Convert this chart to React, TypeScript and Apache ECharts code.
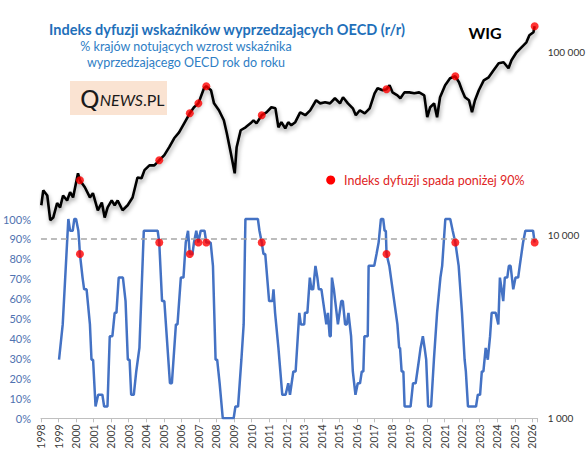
import React, { useEffect, useRef } from "react";
import * as echarts from "echarts";

// Diffusion index (% of countries with rising OECD CLI y/y)
const idxYears = [
  1999.03, 1999.24, 1999.56, 1999.66, 1999.81, 1999.9, 2000.0, 2000.13, 2000.18, 2000.22, 2000.37, 2000.46, 2000.6, 2000.79, 2000.88, 2000.97,
  2001.11, 2001.26, 2001.5, 2001.6, 2001.79, 2001.92, 2002.07, 2002.2, 2002.3, 2002.43, 2002.67, 2002.82, 2002.95, 2003.05, 2003.14, 2003.29,
  2003.43, 2003.61, 2003.86, 2004.65, 2004.74, 2004.9, 2005.03, 2005.12, 2005.35, 2005.46, 2005.69, 2005.78, 2005.97, 2006.12, 2006.25, 2006.38,
  2006.48, 2006.63, 2006.72, 2006.85, 2006.97, 2007.1, 2007.32, 2007.42, 2007.67, 2007.8, 2007.95, 2008.04, 2008.18, 2008.36, 2008.98, 2009.08,
  2009.23, 2009.42, 2009.55, 2009.65, 2010.36, 2010.45, 2010.58, 2010.68, 2010.78, 2011.0, 2011.19, 2011.25, 2011.34, 2011.53, 2011.75, 2011.94,
  2012.09, 2012.19, 2012.38, 2012.51, 2012.72, 2012.81, 2013.0, 2013.04, 2013.18, 2013.32, 2013.41, 2013.51, 2013.64, 2013.75, 2013.83, 2013.98,
  2014.17, 2014.26, 2014.35, 2014.45, 2014.51, 2014.58, 2014.69, 2014.92, 2015.11, 2015.2, 2015.33, 2015.43, 2015.52, 2015.67, 2015.77, 2015.92,
  2016.05, 2016.18, 2016.28, 2016.37, 2016.43, 2016.62, 2016.67, 2016.99, 2017.12, 2017.24, 2017.37, 2017.5, 2017.58, 2017.65, 2017.69, 2017.85,
  2018.22, 2018.31, 2018.41, 2018.46, 2018.55, 2018.65, 2018.72, 2019.06, 2019.2, 2019.35, 2019.54, 2019.63, 2019.76, 2019.86, 2019.95, 2020.06,
  2020.23, 2020.39, 2020.57, 2020.76, 2020.86, 2021.04, 2021.32, 2021.46, 2021.61, 2021.8, 2021.99, 2022.14, 2022.21, 2022.33, 2022.79, 2022.89,
  2023.02, 2023.12, 2023.21, 2023.34, 2023.46, 2023.59, 2023.68, 2023.91, 2024.06, 2024.15, 2024.25, 2024.34, 2024.43, 2024.57, 2024.66, 2024.76,
  2024.91, 2025.04, 2025.19, 2025.28, 2025.47, 2025.6, 2026.04, 2026.13,
];
const idxValues = [
  29.4, 47.1, 100, 94.1, 94.1, 100, 100, 94.1, 88.2, 82.4, 70.6, 64.7, 64.7, 47.1, 29.4, 29.4,
  5.9, 11.8, 11.8, 5.9, 5.9, 41.2, 41.2, 52.9, 52.9, 70.6, 70.6, 58.8, 29.4, 29.4, 11.8, 11.8,
  23.5, 35.3, 94.1, 94.1, 88.2, 58.8, 58.8, 47.1, 17.6, 17.6, 47.1, 47.1, 70.6, 70.6, 88.2, 94.1,
  82.4, 82.4, 88.2, 94.1, 88.2, 94.1, 94.1, 88.2, 88.2, 76.5, 29.4, 29.4, 17.6, 0, 0, 5.9,
  5.9, 29.4, 47.1, 100, 100, 94.1, 88.2, 82.4, 82.4, 58.8, 58.8, 64.7, 52.9, 35.3, 11.8, 11.8,
  17.6, 11.8, 23.5, 23.5, 52.9, 47.1, 47.1, 52.9, 52.9, 70.6, 64.7, 64.7, 76.5, 70.6, 64.7, 64.7,
  52.9, 47.1, 52.9, 41.2, 41.2, 70.6, 64.7, 47.1, 58.8, 58.8, 47.1, 47.1, 52.9, 41.2, 23.5, 11.8,
  17.6, 17.6, 23.5, 23.5, 41.2, 41.2, 76.5, 76.5, 82.4, 88.2, 100, 100, 94.1, 94.1, 82.4, 76.5,
  52.9, 47.1, 35.3, 35.3, 23.5, 23.5, 5.9, 5.9, 17.6, 17.6, 29.4, 35.3, 41.2, 35.3, 29.4, 5.9,
  5.9, 29.4, 52.9, 70.6, 76.5, 100, 100, 94.1, 88.2, 76.5, 52.9, 29.4, 23.5, 5.9, 5.9, 11.8,
  11.8, 23.5, 23.5, 35.3, 29.4, 41.2, 52.9, 52.9, 47.1, 70.6, 64.7, 58.8, 70.6, 70.6, 76.5, 76.5,
  64.7, 70.6, 70.6, 76.5, 88.2, 94.1, 94.1, 88.2,
];

// WIG index (log scale)
const wigYears = [
  1998.02, 1998.13, 1998.36, 1998.53, 1998.7, 1998.92, 1999.09, 1999.26, 1999.49, 1999.66, 1999.83, 2000.11, 2000.22, 2000.5, 2000.79, 2000.96,
  2001.24, 2001.47, 2001.63, 2001.8, 2002.03, 2002.2, 2002.37, 2002.65, 2002.94, 2003.22, 2003.5, 2003.73, 2003.9, 2004.18, 2004.46, 2004.74,
  2005.03, 2005.31, 2005.59, 2005.87, 2006.16, 2006.48, 2006.72, 2006.97, 2007.29, 2007.42, 2007.69, 2007.86, 2008.14, 2008.42, 2008.59, 2008.82,
  2009.04, 2009.15, 2009.38, 2009.66, 2009.94, 2010.11, 2010.28, 2010.58, 2010.85, 2011.13, 2011.36, 2011.53, 2011.7, 2011.92, 2012.09, 2012.26,
  2012.49, 2012.77, 2013.06, 2013.34, 2013.68, 2013.91, 2014.19, 2014.47, 2014.75, 2015.04, 2015.21, 2015.49, 2015.77, 2015.94, 2016.17, 2016.45,
  2016.73, 2017.01, 2017.18, 2017.47, 2017.69, 2017.86, 2018.03, 2018.31, 2018.48, 2018.71, 2018.99, 2019.27, 2019.55, 2019.84, 2020.01, 2020.18,
  2020.4, 2020.57, 2020.74, 2021.03, 2021.31, 2021.61, 2021.82, 2021.99, 2022.16, 2022.39, 2022.56, 2022.73, 2022.95, 2023.23, 2023.51, 2023.79,
  2024.08, 2024.36, 2024.64, 2024.81, 2025.1, 2025.38, 2025.66, 2025.83, 2026.06, 2026.13,
];
const wigValues = [
  14600, 17600, 16500, 12100, 12500, 15000, 14200, 16500, 15500, 17200, 16100, 21800, 20000, 18300, 16100, 17000,
  13700, 15100, 12500, 14200, 15500, 14600, 15500, 13700, 14600, 16100, 20700, 20500, 22700, 24100, 24100, 25700,
  27400, 30300, 33900, 36500, 40900, 46400, 50100, 52600, 63600, 65200, 62000, 52600, 48200, 42500, 36100, 28100,
  21800, 30300, 37500, 38900, 40900, 42500, 40900, 45300, 47000, 50100, 49400, 38900, 41500, 38400, 41500, 39900,
  41500, 47000, 45300, 48200, 54700, 52600, 53300, 52600, 56100, 52600, 56800, 52600, 49400, 45300, 48200, 46400,
  49400, 59700, 63600, 62000, 62800, 66000, 60400, 58200, 56100, 60400, 60400, 59700, 60400, 58200, 44200, 50100,
  52600, 44200, 56800, 66000, 72100, 73900, 68600, 62000, 56800, 54700, 47000, 54700, 62000, 70300, 73000, 79700,
  87100, 88200, 81800, 90400, 100000, 106500, 113400, 123900, 128600, 138700,
];

// Moments when the diffusion index drops below 90%
const dotYears = [2000.22, 2004.74, 2006.48, 2006.97, 2007.42, 2010.58, 2017.69, 2021.61, 2026.13];
const dotIdx = [82.4, 88.2, 82.4, 88.2, 88.2, 88.2, 82.4, 88.2, 88.2];
const dotWig = [20000, 25700, 46400, 52600, 65200, 45300, 62800, 73900, 138700];

const threshold = 90;

const titleText = "Indeks dyfuzji wskaźników wyprzedzających OECD (r/r)";
const subtitle1 = "% krajów notujących wzrost wskaźnika";
const subtitle2 = "wyprzedzającego OECD rok do roku";
const legendText = "Indeks dyfuzji spada poniżej 90%";

const FONT = "Lato, 'Noto Sans', sans-serif";

const zip = (a: number[], b: number[]) => a.map((v, i) => [v, b[i]]);

export default function App() {
  const ref = useRef<HTMLDivElement>(null);
  useEffect(() => {
    document.body.style.margin = "0";
    if (!ref.current) return;
    const chart = echarts.init(ref.current, undefined, { renderer: "svg" });
    chart.setOption({
      animation: false,
      backgroundColor: "#ffffff",
      textStyle: { fontFamily: FONT },
      grid: { left: 40.7, right: 46.7, top: 19.7, bottom: 43.7, containLabel: false },
      xAxis: {
        type: "value",
        min: 1998,
        max: 2026.3,
        interval: 1,
        axisLine: { onZero: false, lineStyle: { color: "#BFBFBF", width: 1 } },
        axisTick: { show: true, length: 4, lineStyle: { color: "#BFBFBF" } },
        splitLine: { show: false },
        axisLabel: {
          rotate: 90,
          fontSize: 10.5,
          color: "#404040",
          margin: 6,
          fontFamily: FONT,
          formatter: (v: number) => (Math.abs(v - Math.round(v)) < 1e-6 ? String(Math.round(v)) : ""),
        },
      },
      yAxis: [
        {
          type: "value",
          position: "left",
          min: 0,
          max: 200,
          interval: 10,
          axisLine: { show: false },
          axisTick: { show: false },
          splitLine: { show: false },
          axisLabel: {
            color: "#4F72B0",
            fontSize: 11,
            margin: 10,
            fontFamily: FONT,
            formatter: (v: number) => (v <= 100.001 ? Math.round(v) + "%" : ""),
          },
        },
        {
          type: "log",
          logBase: 10,
          position: "right",
          min: 1000,
          max: 150700,
          axisLine: { show: false },
          axisTick: { show: false },
          splitLine: { show: false },
          axisLabel: {
            color: "#333333",
            fontSize: 10,
            margin: 10,
            fontFamily: FONT,
            formatter: (v: number) => {
              const l = Math.log10(v);
              if (Math.abs(l - Math.round(l)) > 1e-4) return "";
              return String(Math.round(v)).replace(/\B(?=(\d{3})+(?!\d))/g, " ");
            },
          },
        },
      ],
      series: [
        {
          type: "line",
          yAxisIndex: 0,
          data: zip(idxYears, idxValues),
          showSymbol: false,
          lineStyle: { color: "#4472C4", width: 2.5 },
          z: 2,
          markLine: {
            silent: true,
            symbol: ["none", "none"],
            label: { show: false },
            lineStyle: { type: [6, 4], color: "#A6A6A6", width: 1.5 },
            data: [{ yAxis: threshold }],
          },
        },
        {
          type: "line",
          yAxisIndex: 1,
          data: zip(wigYears, wigValues),
          showSymbol: false,
          lineStyle: {
            color: "#000000",
            width: 2.6,
            shadowColor: "rgba(0,0,0,0.35)",
            shadowBlur: 4,
            shadowOffsetX: 1,
            shadowOffsetY: 3,
          },
          z: 3,
        },
        {
          type: "scatter",
          yAxisIndex: 0,
          data: zip(dotYears, dotIdx),
          symbolSize: 8,
          itemStyle: { color: "#FF0000" },
          z: 5,
        },
        {
          type: "scatter",
          yAxisIndex: 1,
          data: zip(dotYears, dotWig),
          symbolSize: 8,
          itemStyle: { color: "#FF0000" },
          z: 5,
        },
      ],
      graphic: [
        {
          type: "text",
          x: 227,
          y: 29,
          style: { text: titleText, fill: "#1F70BA", font: `bold 14.5px ${FONT}`, align: "center", verticalAlign: "middle" },
        },
        {
          type: "text",
          x: 186,
          y: 46,
          style: { text: subtitle1, fill: "#2E7EC5", font: `12.5px ${FONT}`, align: "center", verticalAlign: "middle" },
        },
        {
          type: "text",
          x: 186,
          y: 62,
          style: { text: subtitle2, fill: "#2E7EC5", font: `12.5px ${FONT}`, align: "center", verticalAlign: "middle" },
        },
        {
          type: "text",
          x: 485,
          y: 32,
          style: { text: "WIG", fill: "#000000", font: `bold 16px ${FONT}`, align: "center", verticalAlign: "middle" },
        },
        {
          type: "rect",
          shape: { x: 70, y: 81, width: 97, height: 34 },
          style: { fill: "#FAE3D2" },
        },
        {
          type: "text",
          x: 80,
          y: 99,
          style: {
            text: "{q|Q}{n|NEWS}{p|.PL}",
            align: "left",
            verticalAlign: "middle",
            rich: {
              q: { fontSize: 25, fontFamily: "'DejaVu Sans', sans-serif", fill: "#1a1a1a", fontWeight: "normal" },
              n: { fontSize: 16, fontFamily: FONT, fontStyle: "italic", fill: "#1a1a1a" },
              p: { fontSize: 16, fontFamily: FONT, fill: "#1a1a1a" },
            },
          },
        },
        {
          type: "circle",
          shape: { cx: 330.7, cy: 180, r: 4.5 },
          style: { fill: "#FF0000" },
        },
        {
          type: "text",
          x: 344,
          y: 180,
          style: { text: legendText, fill: "#E02424", font: `12.5px ${FONT}`, align: "left", verticalAlign: "middle" },
        },
      ],
    });
    return () => chart.dispose();
  }, []);
  return <div ref={ref} style={{ position: "fixed", left: 0, top: 0, width: 588, height: 462 }} />;
}
